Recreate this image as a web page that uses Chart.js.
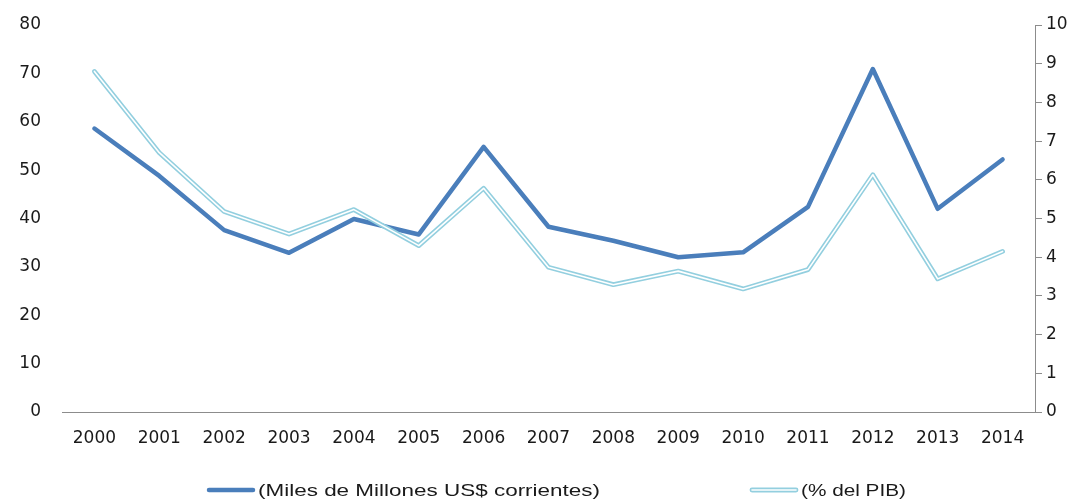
<!DOCTYPE html>
<html>
<head>
<meta charset="utf-8">
<script src="https://cdn.jsdelivr.net/npm/chart.js@4/dist/chart.umd.min.js"></script>
<style>
html,body{margin:0;padding:0;background:#fff;}
#wrap{width:1086px;height:502px;position:relative;}
</style>
</head>
<body>
<div id="wrap"><canvas id="c" width="1086" height="502"></canvas></div>
<script>
const years = ['2000','2001','2002','2003','2004','2005','2006','2007','2008','2009','2010','2011','2012','2013','2014'];
const milesMillones = [58.6,48.8,37.6,32.9,39.9,36.7,54.8,38.3,35.4,32.0,33.0,42.4,70.9,42.0,52.2];
const pctPIB = [8.8,6.7,5.18,4.6,5.23,4.3,5.78,3.74,3.29,3.64,3.18,3.68,6.13,3.44,4.15];
const seriesNames = ['(Miles de Millones US$ corrientes)','(% del PIB)'];
const leftTicks = [0,10,20,30,40,50,60,70,80];
const rightTicks = [0,1,2,3,4,5,6,7,8,9,10];

const DARK = '#4a7ebb';
const LIGHT = '#93cfdf';
const TICKFONT = {family:'DejaVu Sans', size:17};

const legendPlugin = {
  id:'customLegend',
  afterDraw(chart){
    const ctx = chart.ctx;
    const items = [
      {x:207, text:seriesNames[0], targetW:342, dbl:false},
      {x:750, text:seriesNames[1], targetW:105, dbl:true}
    ];
    const y = 490;
    ctx.save();
    items.forEach(it=>{
      ctx.lineCap='round';
      if(it.dbl){
        ctx.strokeStyle=LIGHT; ctx.lineWidth=4.8;
        ctx.beginPath(); ctx.moveTo(it.x+2,y); ctx.lineTo(it.x+46,y); ctx.stroke();
        ctx.strokeStyle='#fff'; ctx.lineWidth=1.6;
        ctx.beginPath(); ctx.moveTo(it.x+2,y); ctx.lineTo(it.x+46,y); ctx.stroke();
      } else {
        ctx.strokeStyle=DARK; ctx.lineWidth=4.5;
        ctx.beginPath(); ctx.moveTo(it.x+2,y); ctx.lineTo(it.x+46,y); ctx.stroke();
      }
      ctx.font = '17px "Liberation Sans"';
      ctx.fillStyle = '#1a1a1a';
      ctx.textBaseline='middle';
      const w = ctx.measureText(it.text).width;
      const sx = it.targetW / w;
      ctx.save();
      ctx.translate(it.x+51, y+1);
      ctx.scale(sx,1);
      ctx.fillText(it.text,0,0);
      ctx.restore();
    });
    ctx.restore();
  }
};

function fixY(w){ return function(s){ s.width = w; s.paddingTop = 0; s.paddingBottom = 0; }; }

new Chart(document.getElementById('c'), {
  type:'line',
  data:{
    labels: years,
    datasets:[
      {label:seriesNames[0], data:milesMillones, yAxisID:'y', order:2, borderColor:DARK, borderWidth:4.5, pointRadius:0, tension:0, borderCapStyle:'round', borderJoinStyle:'round'},
      {label:seriesNames[1], data:pctPIB, yAxisID:'y1', order:1, borderColor:LIGHT, borderWidth:4.8, pointRadius:0, tension:0, borderCapStyle:'round', borderJoinStyle:'round'},
      {label:'_inner', data:pctPIB, yAxisID:'y1', order:0, borderColor:'#ffffff', borderWidth:1.6, pointRadius:0, tension:0, borderCapStyle:'round', borderJoinStyle:'round'}
    ]
  },
  options:{
    responsive:false,
    animation:false,
    layout:{padding:{top:25,bottom:40,left:0,right:0}},
    plugins:{legend:{display:false}, tooltip:{enabled:false}},
    scales:{
      x:{
        offset:true,
        grid:{display:false, drawTicks:false},
        border:{display:true, color:'#8c8c8c', width:1},
        ticks:{font:TICKFONT, color:'#1a1a1a', padding:16, maxRotation:0, autoSkip:false},
        afterFit(s){ s.height = 50; s.paddingLeft = 0; s.paddingRight = 0; }
      },
      y:{
        position:'left', min:0, max:80,
        afterBuildTicks(s){ s.ticks = leftTicks.map(v=>({value:v})); },
        grid:{display:false, drawTicks:false},
        border:{display:false},
        ticks:{font:TICKFONT, color:'#1a1a1a', padding:21},
        afterFit: fixY(62)
      },
      y1:{
        position:'right', min:0, max:10,
        afterBuildTicks(s){ s.ticks = rightTicks.map(v=>({value:v})); },
        grid:{drawOnChartArea:false, drawTicks:true, tickLength:7, color:'#8c8c8c'},
        border:{display:true, color:'#8c8c8c', width:1},
        ticks:{font:TICKFONT, color:'#1a1a1a', padding:4},
        afterFit: fixY(51)
      }
    }
  },
  plugins:[legendPlugin]
});
</script>
</body>
</html>
